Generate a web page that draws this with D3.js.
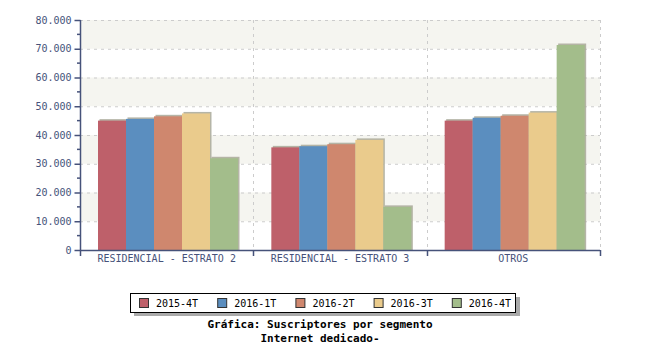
<!DOCTYPE html>
<html><head><meta charset="utf-8">
<script src="https://cdn.jsdelivr.net/npm/d3@7/dist/d3.min.js"></script>
<style>body{margin:0;background:#fff}</style>
</head><body>
<svg id="c" width="650" height="350"></svg>
<script>
const categories = ["RESIDENCIAL - ESTRATO 2", "RESIDENCIAL - ESTRATO 3", "OTROS"];
const seriesNames = ["2015-4T", "2016-1T", "2016-2T", "2016-3T", "2016-4T"];
const s2015_4T = [45000, 35700, 45000];
const s2016_1T = [45600, 36100, 46000];
const s2016_2T = [46500, 36800, 46700];
const s2016_3T = [47500, 38300, 47800];
const s2016_4T = [31900, 15000, 71300];
const colors = ["#be606a", "#5b8ebf", "#cf876e", "#eacb8c", "#a3bd8b"];
const yTicks = [0, 10000, 20000, 30000, 40000, 50000, 60000, 70000, 80000];
const titleLines = ["Gráfica: Suscriptores por segmento", "Internet dedicado-"];

const series = [s2015_4T, s2016_1T, s2016_2T, s2016_3T, s2016_4T];
const svg = d3.select("#c");
const L = 80, R = 600, T = 20, B = 250;
const axisCol = "#46527a";
const font = "'DejaVu Sans Mono', monospace";

const y = d3.scaleLinear().domain([0, 80000]).range([B, T]);
const x0 = d3.scaleBand().domain(categories).range([L, R]).padding(0);
const x1 = d3.scaleBand().domain(seriesNames).range([0, 140]).padding(0);
const fmt = v => v === 0 ? "0" : d3.format(",")(v).replace(/,/g, ".");

// background bands
const g = svg.append("g");
for (let i = 0; i < yTicks.length - 1; i++) {
  if (i % 2 === 1) {
    g.append("rect").attr("x", L).attr("width", R - L)
      .attr("y", y(yTicks[i + 1])).attr("height", y(yTicks[i]) - y(yTicks[i + 1]))
      .attr("fill", "#f5f5f0");
  }
}
// horizontal grid
g.selectAll(".hg").data(yTicks.slice(1)).join("line")
  .attr("x1", L).attr("x2", R).attr("y1", d => y(d) + 0.5).attr("y2", d => y(d) + 0.5)
  .attr("stroke", "#cccccc").attr("stroke-dasharray", "3,4");
// vertical grid
const vb = categories.map(c => x0(c) + x0.bandwidth());
g.selectAll(".vg").data(vb).join("line")
  .attr("x1", d => Math.round(d) + 0.5).attr("x2", d => Math.round(d) + 0.5)
  .attr("y1", T).attr("y2", B).attr("stroke", "#cccccc").attr("stroke-dasharray", "3,4");

// bars
categories.forEach((c, ci) => {
  series.forEach((s, si) => {
    const bx = x0(c) + 18 + x1(seriesNames[si]);
    const by = y(s[ci]);
    svg.append("rect").attr("x", bx + 1.5).attr("y", by - 1.5)
      .attr("width", x1.bandwidth()).attr("height", B - by + 1.5)
      .attr("fill", "#a8a898").attr("opacity", 0.85);
  });
  series.forEach((s, si) => {
    const bx = x0(c) + 18 + x1(seriesNames[si]);
    const by = y(s[ci]);
    svg.append("rect").attr("x", bx).attr("y", by)
      .attr("width", x1.bandwidth()).attr("height", B - by)
      .attr("fill", colors[si]);
  });
});

// y axis
const ya = svg.append("g").attr("transform", `translate(${L + 0.5},0)`)
  .call(d3.axisLeft(y).tickValues(yTicks).tickFormat(fmt).tickSize(6).tickPadding(3));
ya.selectAll("path,line").attr("stroke", axisCol).attr("stroke-width", 1.5);
ya.select("path").attr("d", `M0,${T}V${B}`);
ya.selectAll("text").attr("fill", axisCol).style("font-family", font).style("font-size", "10px");
const minor = d3.range(5000, 80000, 10000);
svg.append("g").selectAll("line").data(minor).join("line")
  .attr("x1", L - 3).attr("x2", L).attr("y1", d => y(d)).attr("y2", d => y(d))
  .attr("stroke", axisCol).attr("stroke-width", 1.5);

// x axis
const xa = svg.append("g").attr("transform", `translate(0,${B + 0.5})`)
  .call(d3.axisBottom(x0).tickSize(0).tickPadding(4));
xa.select("path").attr("d", `M${L},0H${R}`).attr("stroke", axisCol).attr("stroke-width", 1.5);
xa.selectAll("text").attr("fill", axisCol).style("font-family", font).style("font-size", "10px");
svg.append("g").selectAll("line").data([L].concat(vb)).join("line")
  .attr("x1", d => Math.round(d) + 0.5).attr("x2", d => Math.round(d) + 0.5)
  .attr("y1", B).attr("y2", B + 6).attr("stroke", axisCol).attr("stroke-width", 1.5);

// legend
const lg = svg.append("g");
lg.append("rect").attr("x", 134).attr("y", 297).attr("width", 386).attr("height", 19).attr("fill", "#aaaaaa");
lg.append("rect").attr("x", 130.5).attr("y", 293.5).attr("width", 385).attr("height", 19)
  .attr("fill", "#fff").attr("stroke", "#000").attr("stroke-width", 1);
seriesNames.forEach((n, i) => {
  const lx = 139 + i * 78.2;
  lg.append("rect").attr("x", lx + 0.5).attr("y", 298.5).attr("width", 9).attr("height", 9)
    .attr("fill", colors[i]).attr("stroke", "#333").attr("stroke-width", 1);
  lg.append("text").attr("x", lx + 17).attr("y", 307).text(n)
    .style("font-family", font).style("font-size", "10px").attr("fill", "#000");
});

// title
titleLines.forEach((t, i) => {
  svg.append("text").attr("x", 320).attr("y", 328 + i * 14).attr("text-anchor", "middle")
    .text(t).style("font-family", font).style("font-size", "11px").style("font-weight", "bold").attr("fill", "#000");
});
</script>
</body></html>
